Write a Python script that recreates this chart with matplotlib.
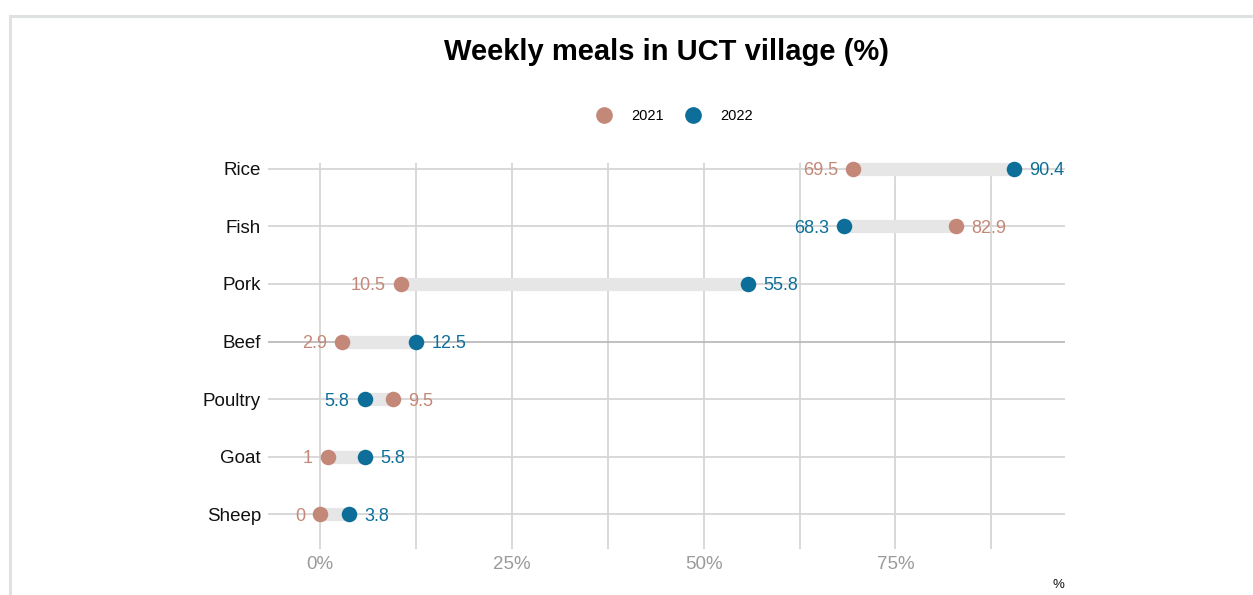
import matplotlib
matplotlib.use("Agg")
import matplotlib.pyplot as plt
from matplotlib.lines import Line2D

categories = ["Rice", "Fish", "Pork", "Beef", "Poultry", "Goat", "Sheep"]
v2021 = [69.5, 82.9, 10.5, 2.9, 9.5, 1, 0]
v2022 = [90.4, 68.3, 55.8, 12.5, 5.8, 5.8, 3.8]
xticks = [0, 25, 50, 75]
xtick_labels = ["0%", "25%", "50%", "75%"]
series_names = ["2021", "2022"]

c2021 = "#C48878"
c2022 = "#0D6E99"

plt.rcParams['font.family'] = ['Liberation Sans', 'DejaVu Sans']

W, H = 1253, 595
fig = plt.figure(figsize=(W / 100, H / 100), dpi=100)

# frame
fig.add_artist(Line2D([10 / W, 10 / W], [0, 1 - 16 / H], color="#DFE2E2", lw=2.2, transform=fig.transFigure))
fig.add_artist(Line2D([10 / W, 1], [1 - 16 / H, 1 - 16 / H], color="#DFE2E2", lw=2.2, transform=fig.transFigure))

left, right, top, bottom = 268, 1065, 163, 549
ax = fig.add_axes([left / W, 1 - bottom / H, (right - left) / W, (bottom - top) / H])
ax.set_xlim(-6.8, 97.1)
ax.set_ylim(-0.6, 6.1)
for s in ax.spines.values():
    s.set_visible(False)

n = len(categories)
ys = [n - 1 - i for i in range(n)]

# vertical grid
for gx in [0, 12.5, 25, 37.5, 50, 62.5, 75, 87.5]:
    ax.axvline(gx, color="#D6D6D6", lw=1.3, zorder=0)
# horizontal grid
for y, cat in zip(ys, categories):
    ax.axhline(y, color="#BBBBBB" if cat == "Beef" else "#D6D6D6", lw=1.3, zorder=0.5)

for y, a, b in zip(ys, v2021, v2022):
    ax.plot([a, b], [y, y], color="#E6E6E6", lw=9.5, solid_capstyle="butt", zorder=1, clip_on=False)

ax.scatter(v2021, ys, s=125, color=c2021, zorder=3, clip_on=False, linewidths=0)
ax.scatter(v2022, ys, s=125, color=c2022, zorder=3, clip_on=False, linewidths=0)

for y, a, b in zip(ys, v2021, v2022):
    lo, hi = (a, c2021), (b, c2022)
    if b < a:
        lo, hi = (b, c2022), (a, c2021)
    ax.annotate(f"{lo[0]:g}", (lo[0], y), xytext=(-11, 0), textcoords="offset points",
                ha="right", va="center_baseline", color=lo[1], fontsize=13, zorder=4, annotation_clip=False)
    ax.annotate(f"{hi[0]:g}", (hi[0], y), xytext=(11, 0), textcoords="offset points",
                ha="left", va="center_baseline", color=hi[1], fontsize=13, zorder=4, annotation_clip=False)

ax.set_yticks(ys)
ax.set_yticklabels(categories, fontsize=13.5, color="#111111", va="center_baseline")
ax.set_xticks(xticks)
ax.set_xticklabels(xtick_labels, fontsize=13.5, color="#9A9A9A")
ax.tick_params(axis="both", length=0)
ax.tick_params(axis="y", pad=5)
ax.tick_params(axis="x", pad=5)

fig.text(1058 / W, 1 - 585 / H, "%", fontsize=9.5, ha="center", va="center", color="#111111")

fig.text(667 / W, 1 - 52 / H, "Weekly meals in UCT village (%)", fontsize=21, fontweight="bold",
         ha="center", va="center", family=['Liberation Sans Narrow', 'Liberation Sans', 'DejaVu Sans'])

handles = [Line2D([], [], marker="o", ls="", color=c, markersize=11) for c in (c2021, c2022)]
fig.legend(handles, series_names, loc="center", bbox_to_anchor=(671 / W, 1 - 116 / H), ncol=2,
           frameon=False, fontsize=10.5, handletextpad=0.9, columnspacing=0.95)

fig.savefig("out.png", dpi=100)
